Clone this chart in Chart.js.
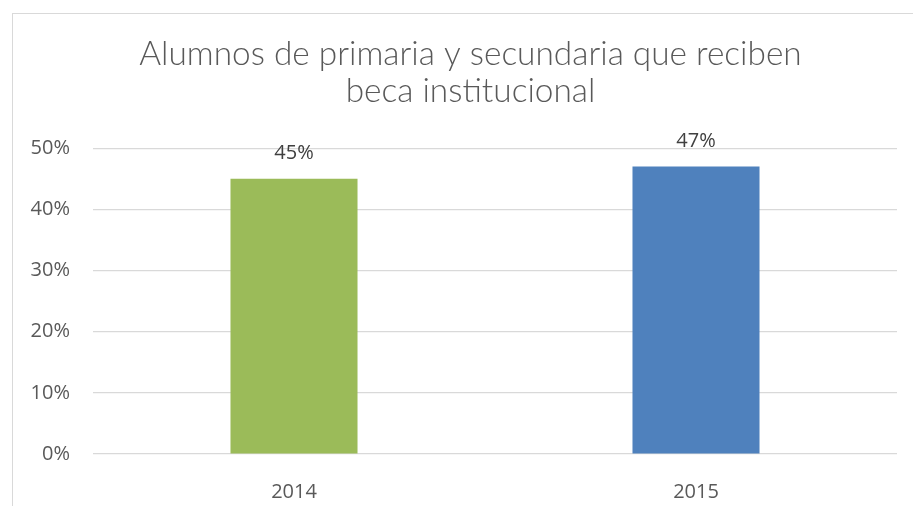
<!DOCTYPE html>
<html>
<head>
<meta charset="utf-8">
<script src="https://cdn.jsdelivr.net/npm/chart.js@4"></script>
<style>
  html, body { margin: 0; padding: 0; background: #fff; }
  #wrap { width: 913px; height: 506px; position: relative; }
</style>
</head>
<body>
<div id="wrap"><canvas id="c" width="913" height="506"></canvas></div>
<script>
const categories = ['2014', '2015'];
const values = [0.45, 0.47];
const barColors = ['#9BBB59', '#4F81BD'];
const yTicks = [0, 0.1, 0.2, 0.3, 0.4, 0.5];
const titleLines = ['Alumnos de primaria y secundaria que reciben', 'beca institucional'];

const borderPlugin = {
  id: 'frame',
  afterLayout(chart) {
    if (chart.titleBlock) { chart.titleBlock.left += 44; }
  },
  beforeDraw(chart) {
    const ctx = chart.ctx;
    ctx.save();
    ctx.fillStyle = '#ffffff';
    ctx.fillRect(0, 0, chart.width, chart.height);
    ctx.strokeStyle = '#d9d9d9';
    ctx.lineWidth = 1;
    ctx.strokeRect(12.5, 13.5, 1000, 1000);
    ctx.restore();
  }
};

const labelPlugin = {
  id: 'barLabels',
  afterDatasetsDraw(chart) {
    const ctx = chart.ctx;
    const meta = chart.getDatasetMeta(0);
    ctx.save();
    ctx.font = '20px "Open Sans"';
    ctx.fillStyle = '#404040';
    ctx.textAlign = 'center';
    ctx.textBaseline = 'middle';
    meta.data.forEach((bar, i) => {
      const v = chart.data.datasets[0].data[i];
      ctx.fillText(Math.round(v * 100) + '%', bar.x, bar.y - 25);
    });
    ctx.restore();
  }
};

new Chart(document.getElementById('c'), {
  type: 'bar',
  data: {
    labels: categories,
    datasets: [{
      data: values,
      backgroundColor: barColors,
      borderWidth: 0,
      categoryPercentage: 1,
      barPercentage: 0.316
    }]
  },
  options: {
    responsive: false,
    animation: false,
    devicePixelRatio: 1,
    layout: { padding: { left: 0, right: 16, top: 0, bottom: 0 } },
    plugins: {
      legend: { display: false },
      tooltip: { enabled: false },
      title: {
        display: true,
        text: titleLines,
        color: '#595959',
        font: { family: 'Lato', size: 33.4, weight: '300', lineHeight: 1.11 },
        padding: { top: 36, bottom: 38 }
      }
    },
    scales: {
      x: {
        grid: { display: false },
        border: { display: false },
        ticks: { color: '#595959', font: { family: 'Open Sans', size: 20 }, padding: 18 },
        afterFit(s) { s.height = 52; }
      },
      y: {
        min: 0,
        max: 0.5,
        afterBuildTicks(s) { s.ticks = yTicks.map(v => ({ value: v })); },
        grid: { color: '#d9d9d9', lineWidth: 1.2, drawTicks: false },
        border: { display: false },
        ticks: {
          color: '#595959',
          font: { family: 'Open Sans', size: 20 },
          padding: 23,
          callback: v => Math.round(v * 100) + '%'
        },
        afterFit(s) { s.width = 93; }
      }
    }
  },
  plugins: [borderPlugin, labelPlugin]
});
</script>
</body>
</html>
